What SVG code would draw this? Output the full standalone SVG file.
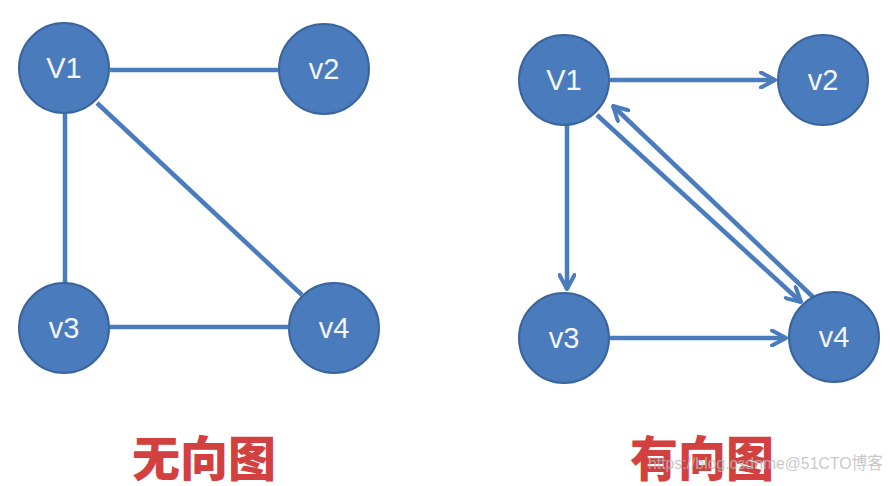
<svg xmlns="http://www.w3.org/2000/svg" width="894" height="486" viewBox="0 0 894 486">
<style>
.node circle{fill:#4a7bbd;stroke:#3a659c;stroke-width:2}
.node text{fill:#f4f6fa;font-family:"Liberation Sans",Arial,sans-serif;font-size:29px;text-anchor:middle}
.edge{stroke:#4a7bbd;stroke-width:4.5;fill:none}
.title{fill:#d2403f;font-family:"Noto Sans CJK SC","Noto Sans",sans-serif;font-weight:900;font-size:48px;text-anchor:middle}
.wm{fill:#b9b9b9;fill-opacity:0.8;font-family:"Liberation Sans","Noto Sans CJK SC",sans-serif;font-size:17px}
</style>
<defs>
<marker id="arr" viewBox="0 0 18 18" refX="16" refY="9" markerWidth="18" markerHeight="18" markerUnits="userSpaceOnUse" orient="auto">
<path d="M2,1.5 L16,9 L2,16.5" fill="none" stroke="#4a7bbd" stroke-width="4" stroke-linecap="round" stroke-linejoin="round"/>
</marker>
</defs>
<rect width="894" height="486" fill="#ffffff"/>
<g id="connectors">
<line class="edge" x1="110" y1="70" x2="278" y2="70"/>
<line class="edge" x1="65" y1="114" x2="65" y2="283"/>
<line class="edge" x1="97" y1="103" x2="302" y2="295"/>
<line class="edge" x1="110" y1="327" x2="288" y2="327"/>
<line class="edge" x1="610" y1="80" x2="775" y2="80" marker-end="url(#arr)"/>
<line class="edge" x1="567" y1="125" x2="567" y2="289" marker-end="url(#arr)"/>
<line class="edge" x1="610" y1="338" x2="786" y2="338" marker-end="url(#arr)"/>
<line class="edge" x1="597" y1="115" x2="801" y2="302" marker-end="url(#arr)"/>
<line class="edge" x1="813" y1="297" x2="613" y2="106" marker-end="url(#arr)"/>
</g>
<g id="u-v1" class="node"><circle cx="64" cy="68" r="45"/><text x="64" y="78">V1</text></g>
<g id="u-v2" class="node"><circle cx="324" cy="69" r="45"/><text x="324" y="79">v2</text></g>
<g id="u-v3" class="node"><circle cx="64" cy="328" r="45"/><text x="64" y="338">v3</text></g>
<g id="u-v4" class="node"><circle cx="334" cy="328" r="45"/><text x="334" y="338">v4</text></g>
<g id="d-v1" class="node"><circle cx="564" cy="80" r="45"/><text x="564" y="90">V1</text></g>
<g id="d-v2" class="node"><circle cx="823" cy="80" r="45"/><text x="823" y="90">v2</text></g>
<g id="d-v3" class="node"><circle cx="564" cy="338" r="45"/><text x="564" y="348">v3</text></g>
<g id="d-v4" class="node"><circle cx="834" cy="337" r="45"/><text x="834" y="347">v4</text></g>
<text class="title" x="204" y="476">无向图</text>
<text class="title" x="702" y="476">有向图</text>
<text class="wm" x="648" y="469" textLength="235" lengthAdjust="spacingAndGlyphs">https://blog.csdnme@51CTO博客</text>
</svg>
